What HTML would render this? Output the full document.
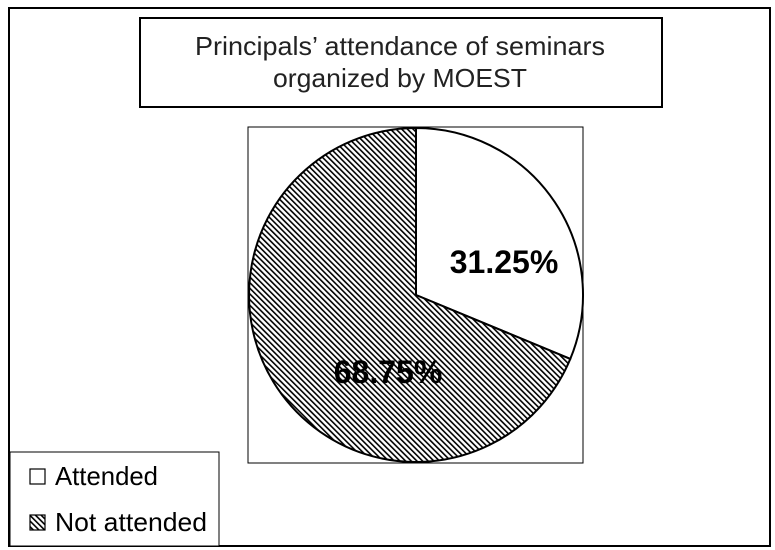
<!DOCTYPE html>
<html><head><style>
body{margin:0;background:#fff;}
svg{display:block;}
text{font-family:"Liberation Sans",sans-serif;}
</style></head><body>
<svg width="775" height="550" viewBox="0 0 775 550">
<defs>
<pattern id="h" patternUnits="userSpaceOnUse" width="4" height="4" patternTransform="rotate(-45)">
<rect width="4" height="4" fill="#fff"/>
<rect x="0" y="0" width="1.6" height="4" fill="#000"/>
</pattern>
<clipPath id="tc"><rect x="140" y="18" width="522" height="77"/></clipPath>
</defs>
<rect x="9" y="8" width="761" height="538" fill="#fff" stroke="#000" stroke-width="2"/>
<rect x="140" y="18" width="522" height="89" fill="#fff" stroke="#000" stroke-width="2"/>
<g clip-path="url(#tc)">
<text x="195" y="55" font-size="26" textLength="410" lengthAdjust="spacingAndGlyphs" fill="#222">Principals’ attendance of seminars</text>
<text x="273" y="87" font-size="26" textLength="254" lengthAdjust="spacingAndGlyphs" fill="#222">organized by MOEST</text>
</g>
<rect x="248" y="127" width="335" height="336" fill="#fff" stroke="#000" stroke-width="1"/>
<path d="M416 295 L416 128 A167 167 0 0 1 570.3 358.9 Z" fill="#fff" stroke="#000" stroke-width="2"/>
<path d="M416 295 L570.3 358.9 A167 167 0 1 1 416 128 Z" fill="url(#h)" stroke="#000" stroke-width="2"/>
<text x="504" y="273" font-size="32" font-weight="bold" text-anchor="middle" fill="#000">31.25%</text>
<text x="388" y="383" font-size="32" font-weight="bold" text-anchor="middle" fill="#000">68.75%</text>
<rect x="10" y="452" width="209" height="94" fill="#fff" stroke="#000" stroke-width="1"/>
<rect x="30" y="469" width="15" height="15" fill="#fff" stroke="#000" stroke-width="1.2"/>
<text x="55" y="485" font-size="26" textLength="103" lengthAdjust="spacingAndGlyphs" fill="#000">Attended</text>
<rect x="30" y="515" width="15" height="15" fill="url(#h)" stroke="#000" stroke-width="1.2"/>
<text x="55" y="531" font-size="26" textLength="152" lengthAdjust="spacingAndGlyphs" fill="#000">Not attended</text>
</svg>
</body></html>
